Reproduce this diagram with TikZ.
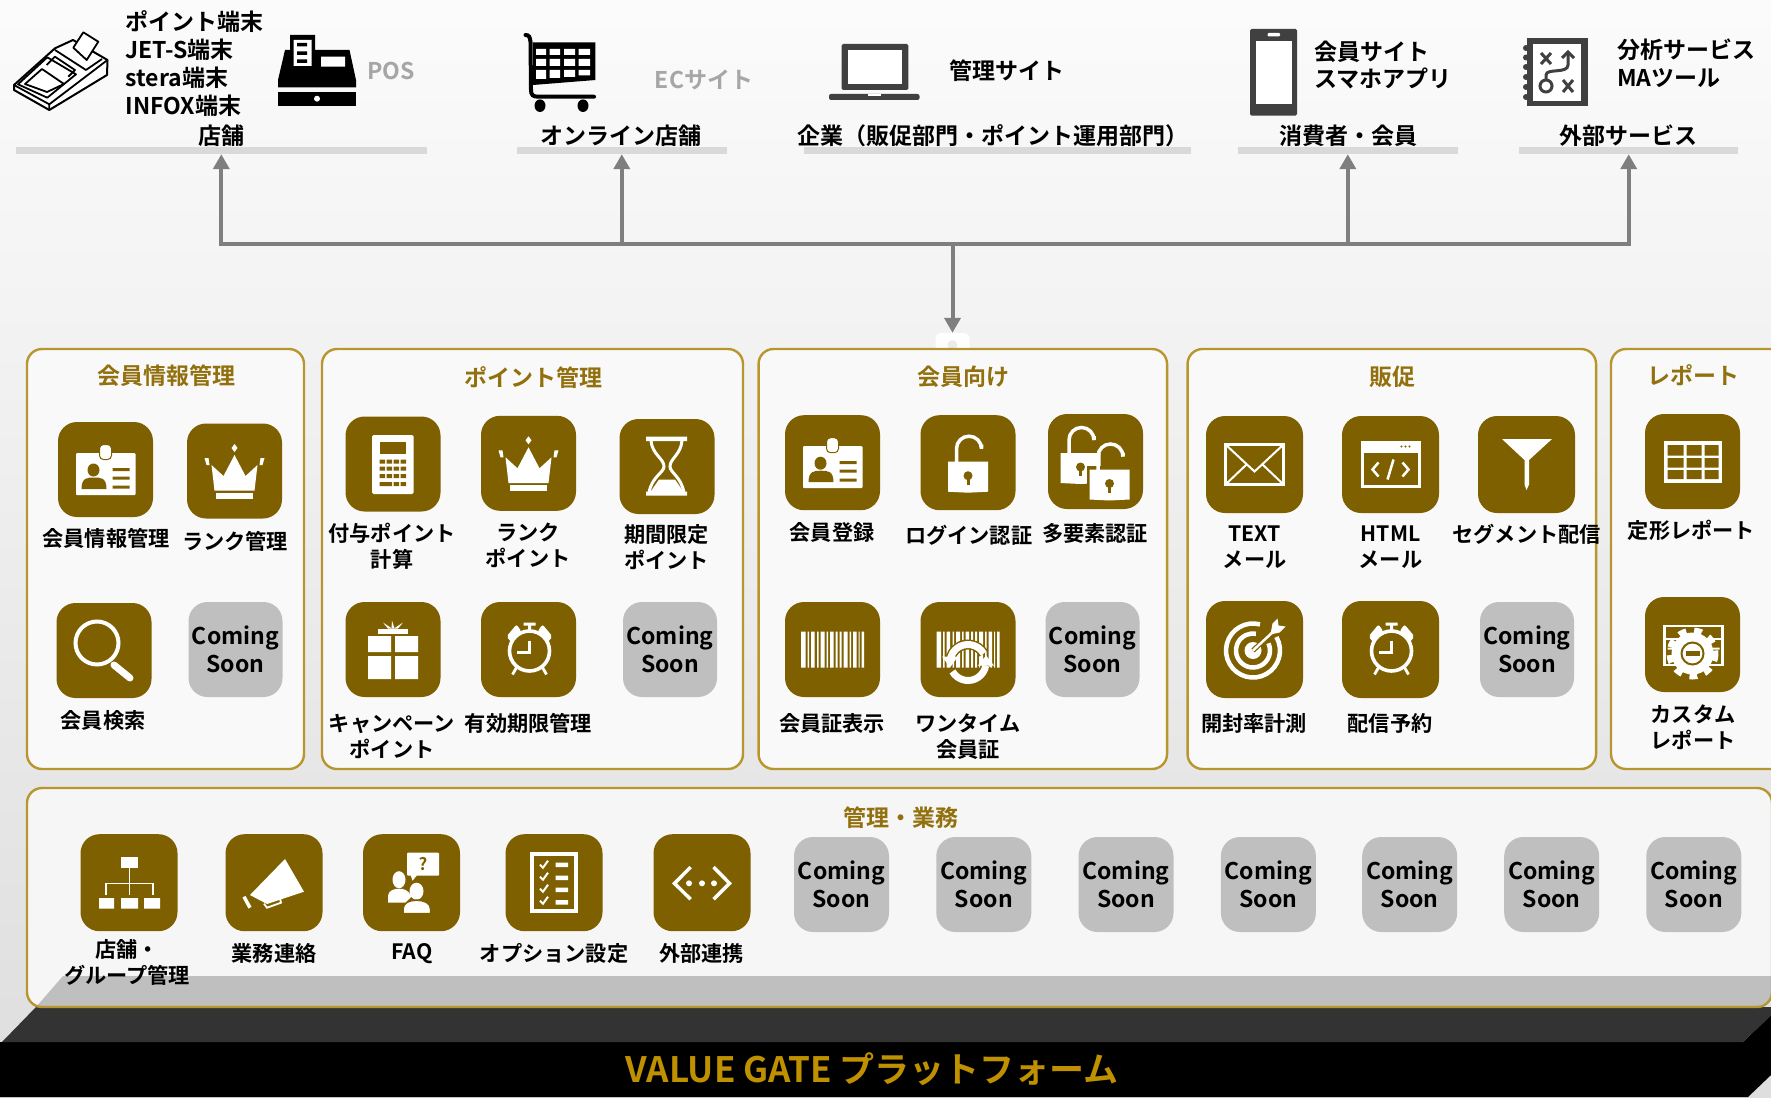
\documentclass[tikz,border=0pt]{standalone}
\usepackage{fontspec}
\setmainfont{Noto Sans CJK JP}[UprightFont=* Bold, BoldFont=* Bold]
\usetikzlibrary{arrows.meta}

\definecolor{tilebrown}{RGB}{127, 96, 0}
\definecolor{soongray}{RGB}{191, 191, 191}
\definecolor{panelgold}{RGB}{184, 150, 46}
\definecolor{titlegold}{RGB}{146, 112, 14}
\definecolor{lightbar}{RGB}{217, 217, 217}
\definecolor{arrowgray}{RGB}{127, 127, 127}
\definecolor{icondark}{RGB}{64, 64, 64}
\definecolor{basedark}{RGB}{51, 51, 51}
\definecolor{basegold}{RGB}{191, 144, 0}

\tikzset{
	tile/.style={fill=tilebrown, rounded corners=19pt, minimum width=95pt, minimum height=95pt, inner sep=0pt},
	bigtile/.style={tile, minimum width=97pt, minimum height=97pt},
	soon/.style={fill=soongray, rounded corners=19pt, minimum width=94pt, minimum height=95pt, inner sep=0pt, align=center, font=\fontsize{23}{28}\selectfont},
	lab/.style={inner sep=0pt, yshift=-0.8pt, align=center, font=\fontsize{21.2}{26}\selectfont},
	toplab/.style={inner sep=0pt, yshift=-1pt, align=left, anchor=west, font=\fontsize{23}{28}\selectfont},
	headlab/.style={inner sep=0pt, yshift=-1pt, font=\fontsize{23}{28}\selectfont},
	graylab/.style={inner sep=0pt, text=black!35, font=\fontsize{23}{28}\selectfont},
	paneltitle/.style={inner sep=0pt, yshift=-0.6pt, text=titlegold, font=\fontsize{23}{28}\selectfont},
	panel/.style={draw=panelgold, line width=2.4pt, fill=black!2.5, rounded corners=15pt, inner sep=0pt},
	bar/.style={fill=lightbar, inner sep=0pt, minimum height=7pt},
	bus/.style={draw=arrowgray, line width=4pt, line cap=rect},
	busarrow/.style={draw=arrowgray, line width=4pt, -{Triangle[length=15pt,width=16pt]}},
	% white icons on the tiles, drawn round the tile centre
	pics/idcard/.style={code={
		\fill[white, rounded corners=1pt] (-29.5,-16.5) rectangle (30,25.5);
		\draw[tilebrown, fill=white, line width=1pt, rounded corners=4pt] (-6,-25) rectangle (6,-10);
		\fill[tilebrown] (-12,0.5) ellipse (6 and 6.5);
		\fill[tilebrown] (-24,19.5) .. controls (-24,8) and (-18,8) .. (-11.5,8) .. controls (-5,8) and (1,8) .. (1,19.5) -- cycle;
		\fill[tilebrown] (7,-1.5) rectangle (24,1.5) (7,7) rectangle (24,10) (7,16) rectangle (24,19);
	}},
	pics/crown/.style={code={
		\fill[white] (0,-16) -- (11,5) -- (23,-6) -- (20,19.7) -- (-20,19.7) -- (-23,-6) -- (-11,5) -- cycle;
		\fill[white] (-18.5,21.7) rectangle (18.5,28);
		\fill[white] (0,-27) -- (3,-23) -- (0,-19) -- (-3,-23) -- cycle;
		\fill[white] (-30,-13) -- (-26,-13) -- (-25,-6) -- (-28,-6) -- cycle;
		\fill[white] (30,-13) -- (26,-13) -- (25,-6) -- (28,-6) -- cycle;
	}},
	pics/lens/.style={code={
		\draw[white, line width=4pt] (-7,-7.5) circle (21.5);
		\draw[white, line width=7pt, line cap=round] (10,14.5) -- (26,27.5);
	}},
	pics/calc/.style={code={
		\fill[white, rounded corners=1.5pt] (-21,-29) rectangle (20.5,30);
		\fill[tilebrown] (-13.5,-22) rectangle (13,-10);
		\fill[tilebrown] (-13.5,-4.5) rectangle (-8,-0.5) (-6.5,-4.5) rectangle (-1,-0.5) (0.5,-4.5) rectangle (6,-0.5) (7.5,-4.5) rectangle (13,-0.5);
		\fill[tilebrown] (-13.5,2.5) rectangle (-8,6.5) (-6.5,2.5) rectangle (-1,6.5) (0.5,2.5) rectangle (6,6.5) (7.5,2.5) rectangle (13,6.5);
		\fill[tilebrown] (-13.5,10) rectangle (-8,14) (-6.5,10) rectangle (-1,14) (0.5,10) rectangle (6,14) (7.5,10) rectangle (13,14);
		\fill[tilebrown] (-13.5,18) rectangle (-1,22) (0.5,18) rectangle (6,22) (7.5,18) rectangle (13,22);
	}},
	pics/hourglass/.style={code={
		\fill[white] (-21,-30) rectangle (20,-25.5) (-21,25) rectangle (20,29);
		\draw[white, line width=3pt] (-16,-26) .. controls (-15,-12) and (-3,-8) .. (-3,0) .. controls (-3,6) and (-15,10) .. (-18,26);
		\draw[white, line width=3pt] (15,-26) .. controls (14,-12) and (3,-8) .. (3,0) .. controls (3,6) and (14,10) .. (17,26);
		\fill[white] (-8,13) -- (8,13) -- (17,26) -- (-17,26) -- cycle;
	}},
	pics/gift/.style={code={
		\fill[white] (-25,-13.5) rectangle (-2,2.5) (2,-13.5) rectangle (25,2.5);
		\fill[white] (-25,6.5) rectangle (-2,29.5) (2,6.5) rectangle (25,29.5);
		\fill[white] (-15,-21) rectangle (15,-16);
		\fill[white] (-10,-27) -- (-1,-21) -- (-5,-21) -- cycle (-1,-29) -- (1.5,-21) -- (-1.5,-21) -- cycle (10,-27) -- (5,-21) -- (1,-21) -- cycle;
	}},
	pics/alarm/.style={code={
		\draw[white, line width=3.6pt] (1,1.5) ellipse (20 and 20);
		\fill[white, rounded corners=2pt] (-22,-13) -- (-12,-25) -- (-7,-18) -- (-17,-7) -- cycle;
		\fill[white, rounded corners=2pt] (24,-13) -- (14,-25) -- (9,-18) -- (19,-7) -- cycle;
		\fill[white] (-5,-27) rectangle (7,-24) (-0.5,-25) rectangle (2.5,-18);
		\draw[white, line width=2.8pt] (1,-9) -- (1,3) -- (-12,3);
		\draw[white, line width=2.8pt] (-12,18) -- (-16,25) (14,18) -- (18,25);
	}},
	pics/lockshape/.style={code={
		\fill[white] (-20,-1) -- (20,-1) -- (20,29) -- (0,30) -- (-20,29) -- cycle;
		\draw[white, line width=3.5pt] (-11.5,0) -- (-11.5,-14) arc (180:360:12.5) -- (13.5,-18);
		\fill[tilebrown] (0,13) circle (4.5);
		\fill[tilebrown] (-1.5,14) rectangle (1.5,22);
	}},
	pics/barcode/.style={code={
		\fill[white] (-31.5,-18) rectangle (-27,18) (-25,-18) rectangle (-23.5,18) (-21.5,-18) rectangle (-18,18) (-15.5,-18) rectangle (-14,18);
		\fill[white] (-12,-18) rectangle (-8,18) (-6,-18) rectangle (-4.5,18) (-2.5,-18) rectangle (1,18) (3,-18) rectangle (5,18);
		\fill[white] (7,-18) rectangle (9,18) (11,-18) rectangle (15,18) (17,-18) rectangle (18.5,18) (20.5,-18) rectangle (24,18) (26,-18) rectangle (27,18) (29,-18) rectangle (31.5,18);
	}},
	pics/refresh/.style={code={
		\draw[tilebrown, line width=10pt] (0,13) ++(190:18) arc (190:330:18);
		\draw[white, line width=7pt] (0,13) ++(190:18) arc (190:330:18);
		\draw[tilebrown, line width=10pt] (0,13) ++(10:18) arc (10:150:18);
		\draw[white, line width=7pt] (0,13) ++(10:18) arc (10:150:18);
		\fill[white] (-26,7) -- (-10,7) -- (-18,18) -- cycle (26,16) -- (10,16) -- (18,6) -- cycle;
	}},
	pics/mailicon/.style={code={
		\draw[white, line width=3.5pt] (-29,-20) rectangle (29,20);
		\draw[white, line width=2pt] (-29,-20) -- (0,7) -- (29,-20) (-29,20) -- (-8,0) (29,20) -- (8,0);
	}},
	pics/htmlicon/.style={code={
		\draw[white, line width=3pt] (-28.5,-22) rectangle (28.5,22);
		\fill[white] (-30,-23.5) rectangle (30,-12);
		\fill[tilebrown] (11,-18) circle (1.2) (15,-18) circle (1.2) (19,-18) circle (1.2);
		\draw[white, line width=2.5pt] (-12,-2) -- (-18,5) -- (-12,12) (12,-2) -- (18,5) -- (12,12) (3,-5) -- (-3,15);
	}},
	pics/funnel/.style={code={
		\fill[white] (-24.5,-25.5) -- (25.5,-25.5) -- (2.5,-4.5) -- (2.5,20) -- (0,25.5) -- (-2,20) -- (-2,-4.5) -- cycle;
	}},
	pics/targeticon/.style={code={
		\draw[white, line width=4.5pt] (-1.5,1) ++(-30:27) arc (-30:285:27);
		\draw[white, line width=4.5pt] (-1.5,1) ++(-25:17) arc (-25:280:17);
		\fill[white] (-1.5,1) circle (8.5);
		\draw[tilebrown, line width=5pt] (-1.5,1) -- (20,-19);
		\draw[white, line width=2.5pt] (-1.5,1) -- (21,-20);
		\fill[white] (16,-15) -- (18,-26) -- (23,-31) -- (24,-24) -- (31,-23) -- (25,-17) -- cycle;
	}},
	pics/tableicon/.style={code={
		\fill[white] (-29,-20.5) rectangle (29.5,21);
		\fill[tilebrown] (-25,-16.5) rectangle (-9,-6) (-6,-16.5) rectangle (9,-6) (12,-16.5) rectangle (26,-6);
		\fill[tilebrown] (-25,-3.5) rectangle (-9,6) (-6,-3.5) rectangle (9,6) (12,-3.5) rectangle (26,6);
		\fill[tilebrown] (-25,8.5) rectangle (-9,17.5) (-6,8.5) rectangle (9,17.5) (12,8.5) rectangle (26,17.5);
	}},
	pics/gearicon/.style={code={
		\draw[white, line width=2.5pt] (-28,-18.5) rectangle (30,20.5);
		\fill[tilebrown] (-25,-16) rectangle (-9,-7) (-6,-16) rectangle (9,-7) (12,-16) rectangle (27,-7);
		\fill[white] (-28,-7) rectangle (30,-4.5);
		\fill[tilebrown] (-25,-4.5) rectangle (27,18);
		\fill[white] (-25,3) rectangle (-18,5) (20,3) rectangle (27,5);
		\fill[white] (0,9) circle (21);
		\draw[white, line width=6pt, dash pattern=on 7.7pt off 8pt] (0,9) circle (23);
		\draw[tilebrown, line width=2pt] (0,9) circle (11);
		\fill[tilebrown] (-7,6.5) rectangle (7,11);
	}},
	pics/orgicon/.style={code={
		\fill[white] (-8,-26) rectangle (9,-15);
		\fill[white] (-30,15.5) rectangle (-15,26) (-8,15.5) rectangle (9,26) (15,15.5) rectangle (31,26);
		\draw[white, line width=1.3pt] (0.5,-15) -- (0.5,12.5) (-23,12.5) -- (-23,0.8) -- (24,0.8) -- (24,12.5);
	}},
	pics/megaphone/.style={code={
		\fill[white] (11,-23.7) -- (30,9) -- (-7,21.3) -- (-24,12.3) -- cycle;
		\draw[white, line width=3.5pt] (-30,14) -- (-24,25);
		\draw[white, line width=1.8pt] (-10,21) -- (-7,25) -- (7,20) -- (5,12);
	}},
	pics/faqicon/.style={code={
		\fill[white, rounded corners=1pt] (-4.5,-30) rectangle (27.7,-7);
		\fill[white] (-1,-8) -- (6,-8) -- (1,-2) -- cycle;
		\node[inner sep=0pt, text=tilebrown, font=\fontsize{17}{17}\selectfont] (qmark) at (11.5,-19) {?};
		\fill[white] (-12.5,-3) ellipse (6.5 and 8.5);
		\fill[white] (-23.5,20) -- (-23.5,13) .. controls (-23,7) and (-16,6) .. (-12.5,6) .. controls (-8,6) and (-3,7) .. (0,14) -- (-6,20) -- cycle;
		\fill[white] (5,8.5) ellipse (7 and 8.5);
		\draw[tilebrown, line width=1.5pt, fill=white] (-8.5,31) -- (-8.5,26) .. controls (-8,20) and (-2,17.5) .. (5,17.5) .. controls (12,17.5) and (19,20) .. (19,26) -- (19,31) -- cycle;
	}},
	pics/checklist/.style={code={
		\draw[white, line width=3.5pt] (-22,-28.5) rectangle (22,28.5);
		\draw[white, line width=2pt] (-14,-18) -- (-11,-15) -- (-6,-22) (-14,-6) -- (-11,-3) -- (-6,-10) (-14,6) -- (-11,9) -- (-6,2) (-14,18) -- (-11,21) -- (-6,14);
		\fill[white] (1.7,-20) rectangle (14,-15.5) (1.7,-7) rectangle (14,-2.5) (1.7,5) rectangle (14,9.5) (1.7,17.5) rectangle (14,22);
	}},
	pics/exticon/.style={code={
		\draw[white, line width=3.5pt] (-11.4,-15.6) -- (-27.5,0.6) -- (-11.4,16.6) (11.6,-15.6) -- (27.5,0.6) -- (11.6,16.6);
		\fill[white] (-13,0.6) circle (3) (0,0.6) circle (3) (12,0.6) circle (3);
	}}
}

\begin{document}
\begin{tikzpicture}[x=1pt, y=-1pt]
	\useasboundingbox (0,0) rectangle (1771,1097);
	\clip (0,0) rectangle (1771,1097);
	\shade[top color=black!1.5, bottom color=black!13] (0,0) rectangle (1771,1097);

	% Platform
	\fill[black] (0,1042) -- (1743,1042) -- (1771,1015) -- (1771,1075) -- (1748,1097) -- (0,1097) -- cycle;
	\fill[basedark] (36,1007) -- (1780,1007) -- (1743,1042) -- (2,1042) -- cycle;
	\node[inner sep=0pt, text=basegold, font=\fontsize{35}{40}\selectfont] (Lplatform) at (872,1069) {VALUE GATE プラットフォーム};

	% Nodes - icons and texts of the top row
	\draw[black, line width=2pt, line join=round, fill=white] (14,85) -- (55,48.3) -- (73,40) -- (107.5,60) -- (107,75) -- (49.3,110) -- (14,90) -- cycle;
	\draw[black, line width=1.8pt, line join=round] (14,85) -- (49.3,104.3) -- (107.5,60) (49.3,104.3) -- (49.3,110);
	\draw[black, line width=1.8pt, line join=round] (18,84.3) -- (47.3,57.3) -- (76,74.3) -- (47.3,97.7) -- cycle;
	\draw[black, line width=1.8pt, line join=round] (25,84) -- (42,69) -- (64,84) -- (47,92) -- cycle;
	\draw[black, line width=1.8pt, line join=round] (46.7,65) -- (55,56.7) -- (75,70) -- (68.3,76.7);
	\draw[black, line width=1.8pt, line join=round] (55,50) -- (86,70) -- (102,59);
	\draw[black, line width=1.8pt, line join=round, fill=white] (73.3,47.7) -- (83.3,32.3) -- (98.3,41.7) -- (86.7,60) -- cycle;

	\fill[black] (278,87.3) -- (278,80) -- (285,50) -- (290,50) -- (290,35) -- (315,35) -- (315,50) -- (349.5,50) -- (356,80) -- (356,87.3) -- cycle;
	\fill[white] (293.5,40) rectangle (311.5,66) (321,56.7) rectangle (345,66.7);
	\fill[black] (297,43) rectangle (307,46.5) (297,51.5) rectangle (307,55) (297,59.5) rectangle (307,63);
	\fill[black] (278,92) rectangle (356,106);
	\fill[white] (317,98.7) ellipse (3 and 3);

	\fill[black] (533,42.3) rectangle (595.4,80) (533,80) -- (595.4,80) -- (533,85) -- cycle;
	\draw[black, line width=4pt, line cap=round] (525.5,35) .. controls (529,35) and (530,37) .. (530.5,42) -- (531,90) .. controls (531,95) and (533,96.7) .. (538,96.7) -- (594,96.7);
	\fill[white] (536,49) rectangle (546,55) (549.5,49) rectangle (560,55) (564,49) rectangle (575,55) (578.5,49) rectangle (590,55);
	\fill[white] (536,59) rectangle (546,66) (549.5,59) rectangle (560,66) (564,59) rectangle (575,66) (578.5,59) rectangle (590,66);
	\fill[white] (536,70) rectangle (546,79) (549.5,70) rectangle (560,78) (564,70) rectangle (575,77) (578.5,70) rectangle (590,75.5);
	\fill[black] (540,105.7) ellipse (5.5 and 6.3) (583,105.7) ellipse (5.5 and 6.3);

	\fill[icondark, rounded corners=1.5pt] (841.5,44) rectangle (908.4,90);
	\fill[white] (847.7,50) rectangle (902,84);
	\fill[icondark, rounded corners=2pt] (829,94) rectangle (919.5,100);
	\fill[white] (868,94) rectangle (880.5,95.7);

	\fill[icondark, rounded corners=1.5pt] (1250,29) rectangle (1297,115.7);
	\fill[white] (1255.7,40.7) rectangle (1291.6,104);
	\fill[white, rounded corners=1pt] (1267.5,33) rectangle (1280,36.3);

	\fill[icondark] (1527,38) rectangle (1587.6,105.7);
	\fill[white] (1533,44) rectangle (1581.4,100.7);
	\fill[icondark] (1526,48) circle (3) (1526,57.5) circle (3) (1526,67) circle (3) (1526,77) circle (3) (1526,87) circle (3) (1526,97) circle (3);
	\draw[icondark, line width=3pt] (1541,53) -- (1551,64) (1551,53) -- (1541,64) (1563,80) -- (1573,92) (1573,80) -- (1563,92);
	\draw[icondark, line width=3pt] (1546,86) circle (6);
	\draw[icondark, line width=3pt] (1546,80) -- (1546,75) .. controls (1546,68) and (1568,74) .. (1568,65) -- (1568,53);
	\draw[icondark, line width=3pt] (1562,58) -- (1568,52) -- (1574,58);

	\node[toplab] (Lterm) at (125.5,63) {ポイント端末\\JET-S端末\\stera端末\\INFOX端末};
	\node[graylab] (Lpos) at (391,71) {POS};
	\node[graylab] (Lec) at (704,80) {ECサイト};
	\node[headlab] (Ladmin) at (1006.5,70) {管理サイト};
	\node[toplab, font=\fontsize{23}{26.5}\selectfont] (Lsite) at (1314,64) {会員サイト\\スマホアプリ};
	\node[toplab, font=\fontsize{23}{28}\selectfont] (Ltool) at (1617,62) {分析サービス\\MAツール};

	\node[headlab] (Hstore) at (221,135) {店舗};
	\node[headlab] (Honline) at (621,135) {オンライン店舗};
	\node[headlab] (Hcompany) at (993,135) {企業（販促部門・ポイント運用部門）};
	\node[headlab] (Hmember) at (1348,135) {消費者・会員};
	\node[headlab] (Hext) at (1628.5,135) {外部サービス};

	\node[bar, minimum width=410.5pt] (Bstore) at (221.3,150.5) {};
	\node[bar, minimum width=209.5pt] (Bonline) at (621.8,150.5) {};
	\node[bar, minimum width=386.7pt] (Bcompany) at (997.3,150.5) {};
	\node[bar, minimum width=219.6pt] (Bmember) at (1347.8,150.5) {};
	\node[bar, minimum width=218.5pt] (Bext) at (1628.7,150.5) {};

	% Edges
	\coordinate (Jstore) at (221.3,244); \coordinate (Jonline) at (621.8,244); \coordinate (Jdown) at (952.5,244);
	\coordinate (Jmember) at (1347.8,244); \coordinate (Jext) at (1628.7,244);
	\node[fill=white, rounded corners=5pt, minimum width=34pt, minimum height=31pt, inner sep=0pt] (Nblob) at (952.5,348.5) {};
	\fill[black!8] (952.5,345) circle (5);
	\draw[bus] (Jstore) -- (Jext);
	\draw[busarrow] (Jstore) -- (Bstore.south); \draw[busarrow] (Jonline) -- (Bonline.south);
	\draw[busarrow] (Jmember) -- (Bmember.south); \draw[busarrow] (Jext) -- (Bext.south);
	\draw[busarrow] (Jdown) -- (Nblob.north);

	% Nodes - Panels
	\node[panel, minimum width=277pt, minimum height=420pt] (Pinfo) at (165.5,559) {};
	\node[panel, minimum width=421pt, minimum height=420pt] (Ppoint) at (532.5,559) {};
	\node[panel, minimum width=408.5pt, minimum height=420pt] (Pmember) at (962.8,559) {};
	\node[panel, minimum width=408.5pt, minimum height=420pt] (Psales) at (1391.8,559) {};
	\node[panel, minimum width=180pt, minimum height=420pt] (Preport) at (1701,559) {};
	\node[panel, draw=none, fill=black!3.5, minimum width=1745pt, minimum height=219pt] (Pbase) at (899.5,897.5) {};
	\begin{scope}
		\clip[rounded corners=15pt] (27,788) rectangle (1772,1007);
		\fill[soongray] (63,976) -- (1800,976) -- (1800,1007) -- (36,1007) -- cycle;
	\end{scope}
	\node[panel, fill=none, minimum width=1745pt, minimum height=219pt] (Pframe) at (Pbase) {};

	\node[paneltitle] (Tinfo) at (166,375) {会員情報管理};
	\node[paneltitle] (Tpoint) at (533,377) {ポイント管理};
	\node[paneltitle] (Tmember) at (963,376) {会員向け};
	\node[paneltitle] (Tsales) at (1392,376) {販促};
	\node[paneltitle] (Treport) at (1693,375) {レポート};
	\node[paneltitle] (Tbase) at (901,817) {管理・業務};

	% Nodes - Panel 1
	\node[tile] (Acard) at (105.5,469.5) {}; \pic at (Acard) {idcard};
	\node[tile] (Arank) at (234.5,471) {}; \pic at (Arank) {crown};
	\node[tile] (Asearch) at (104,650.5) {}; \pic at (Asearch) {lens};
	\node[soon] (Asoon) at (235.5,649.5) {Coming\\Soon};
	\node[lab] (Lacard) at (106,538) {会員情報管理};
	\node[lab] (Larank) at (235,541) {ランク管理};
	\node[lab] (Lasearch) at (103,720) {会員検索};

	% Nodes - Panel 2
	\node[tile] (Bcalc) at (393,464) {}; \pic at (Bcalc) {calc};
	\node[tile] (Brank) at (528.5,463.3) {}; \pic at (Brank) {crown};
	\node[tile] (Blimit) at (667,466.5) {}; \pic at (Blimit) {hourglass};
	\node[tile] (Bgift) at (393,649.5) {}; \pic at (Bgift) {gift};
	\node[tile] (Bclock) at (528.5,649.5) {}; \pic at (Bclock) {alarm};
	\node[soon] (Bsoon) at (670,649.5) {Coming\\Soon};
	\node[lab] (Lbcalc) at (392,545) {付与ポイント\\計算};
	\node[lab] (Lbrank) at (528,545) {ランク\\ポイント};
	\node[lab] (Lblimit) at (666.5,546.5) {期間限定\\ポイント};
	\node[lab] (Lbgift) at (392,736) {キャンペーン\\ポイント};
	\node[lab] (Lbclock) at (528.5,723) {有効期限管理};

	% Nodes - Panel 3
	\node[tile] (Cregist) at (832.5,462.7) {}; \pic at (Cregist) {idcard};
	\node[tile] (Clogin) at (968,462.7) {}; \pic at (Clogin) {lockshape};
	\node[tile] (Cmulti) at (1095.5,461.5) {};
	\pic at (1080.5,454) {lockshape};
	\fill[tilebrown] (1087,466) rectangle (1133,502);
	\pic at (1109.5,470.5) {lockshape};
	\node[tile] (Cbar) at (832.5,649.5) {}; \pic at (Cbar) {barcode};
	\node[tile] (Conce) at (968,649.5) {}; \pic at (Conce) {barcode}; \pic at (Conce) {refresh};
	\node[soon] (Csoon) at (1092.5,649.5) {Coming\\Soon};
	\node[lab] (Lcregist) at (832,532) {会員登録};
	\node[lab] (Lclogin) at (968.7,534) {ログイン認証};
	\node[lab] (Lcmulti) at (1095,533) {多要素認証};
	\node[lab] (Lcbar) at (832,723) {会員証表示};
	\node[lab] (Lconce) at (968,736) {ワンタイム\\会員証};

	% Nodes - Panel 4
	\node[bigtile] (Dmail) at (1254.5,464.5) {}; \pic at (Dmail) {mailicon};
	\node[bigtile] (Dhtml) at (1390.5,464.5) {}; \pic at (Dhtml) {htmlicon};
	\node[bigtile] (Dseg) at (1526.5,464.5) {}; \pic at (Dseg) {funnel};
	\node[bigtile] (Dopen) at (1254.5,649.5) {}; \pic at (Dopen) {targeticon};
	\node[bigtile] (Dclock) at (1390.5,649.5) {}; \pic at (Dclock) {alarm};
	\node[soon] (Dsoon) at (1527,649.5) {Coming\\Soon};
	\node[lab] (Ldmail) at (1254.6,546.5) {TEXT\\メール};
	\node[lab] (Ldhtml) at (1390.5,546.5) {HTML\\メール};
	\node[lab] (Ldseg) at (1526.7,533) {セグメント配信};
	\node[lab] (Ldopen) at (1254,723) {開封率計測};
	\node[lab] (Ldclock) at (1390,723) {配信予約};

	% Nodes - Panel 5
	\node[tile] (Etable) at (1692.5,461.5) {}; \pic at (Etable) {tableicon};
	\node[tile] (Ecustom) at (1692.5,644.5) {}; \pic at (Ecustom) {gearicon};
	\node[lab] (Letable) at (1691.4,530) {定形レポート};
	\node[lab] (Lecustom) at (1693,726) {カスタム\\レポート};

	% Nodes - Base panel
	\node[bigtile] (Forg) at (129,882.7) {}; \pic at (Forg) {orgicon};
	\node[bigtile] (Fnews) at (274,882.7) {}; \pic at (Fnews) {megaphone};
	\node[bigtile] (Ffaq) at (411.5,882.7) {}; \pic at (Ffaq) {faqicon};
	\node[bigtile] (Fopt) at (554,882.7) {}; \pic at (Fopt) {checklist};
	\node[bigtile] (Fext) at (702,882.7) {}; \pic at (Fext) {exticon};
	\node[soon, minimum width=95pt] (Fsoona) at (841.5,884.5) {Coming\\Soon};
	\node[soon, minimum width=95pt] (Fsoonb) at (983.8,884.5) {Coming\\Soon};
	\node[soon, minimum width=95pt] (Fsoonc) at (1126,884.5) {Coming\\Soon};
	\node[soon, minimum width=95pt] (Fsoond) at (1268.4,884.5) {Coming\\Soon};
	\node[soon, minimum width=95pt] (Fsoone) at (1409.7,884.5) {Coming\\Soon};
	\node[soon, minimum width=95pt] (Fsoonf) at (1551.7,884.5) {Coming\\Soon};
	\node[soon, minimum width=95pt] (Fsoong) at (1693.8,884.5) {Coming\\Soon};
	\node[lab] (Lforg) at (127,962) {店舗・\\グループ管理};
	\node[lab] (Lfnews) at (274,952.7) {業務連絡};
	\node[lab] (Lffaq) at (412,952.7) {FAQ};
	\node[lab] (Lfopt) at (554,952.7) {オプション設定};
	\node[lab] (Lfext) at (701.5,952.7) {外部連携};
\end{tikzpicture}
\end{document}
